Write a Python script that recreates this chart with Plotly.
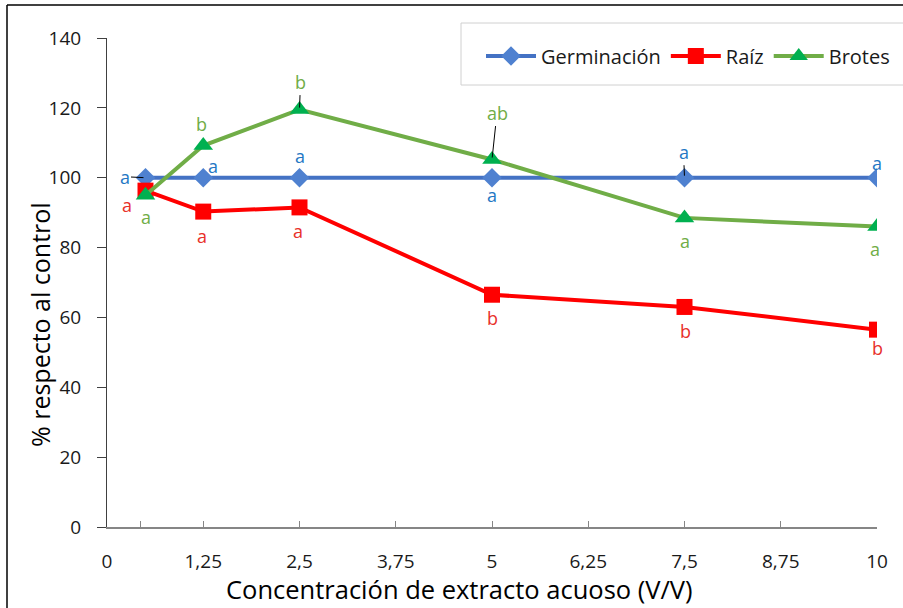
import plotly.graph_objects as go

# ---- data ----
conc = [0.5, 1.25, 2.5, 5, 7.5, 10]
germinacion = [100, 100, 100, 100, 100, 100]
raiz = [96.3, 90.3, 91.5, 66.5, 63.0, 56.5]
brotes = [95.0, 109.2, 119.5, 105.2, 88.5, 86.0]

germ_letters = ["a", "a", "a", "a", "a", "a"]
raiz_letters = ["a", "a", "a", "b", "b", "b"]
brotes_letters = ["a", "b", "b", "ab", "a", "a"]

x_tickvals = [0, 0.43, 1.25, 2.5, 3.75, 5, 6.25, 7.5, 8.75, 10]
x_ticktext = ["0", "", "1,25", "2,5", "3,75", "5", "6,25", "7,5", "8,75", "10"]
y_tickvals = [0, 20, 40, 60, 80, 100, 120, 140]

# ---- styles ----
C_GERM_LINE = "#4472C4"
C_GERM_MK = "#4F81D0"
C_RAIZ = "#FF0000"
C_BROT_LINE = "#70AD47"
C_BROT_MK = "#00B050"
C_GERM_TXT = "#1F77C4"
C_RAIZ_TXT = "#E8302A"
C_BROT_TXT = "#70AD47"
FONT = "Open Sans"

fig = go.Figure()
fig.add_trace(go.Scatter(x=conc, y=germinacion, name="Germinación", mode="lines+markers",
                         line=dict(color=C_GERM_LINE, width=4),
                         marker=dict(symbol="diamond", size=15, color=C_GERM_MK)))
fig.add_trace(go.Scatter(x=conc, y=raiz, name="Raíz", mode="lines+markers",
                         line=dict(color=C_RAIZ, width=4),
                         marker=dict(symbol="square", size=16, color=C_RAIZ)))
fig.add_trace(go.Scatter(x=conc, y=brotes, name="Brotes", mode="lines+markers",
                         line=dict(color=C_BROT_LINE, width=4),
                         marker=dict(symbol="triangle-up", size=17, color=C_BROT_MK)))

# label offsets in pixels: (xshift, yshift, leader) ; leader -> (ax, ay) arrow
germ_off = [(-21, -1, True), (10, 12, False), (0, 22, False), (0, -17, False), (-1, -26, True), (0, 15, False)]
raiz_off = [(-19, -14, False), (-1, -24, False), (-2, -24, False), (0, -23, False), (1, -24, False), (0, -18, False)]
brot_off = [(0, -22, False), (-2, 22, False), (1, -28, True), (5, -47, True), (0, -23, False), (-2, -22, False)]

annotations = []
for ys, letters, offs, col in [(germinacion, germ_letters, germ_off, C_GERM_TXT),
                               (raiz, raiz_letters, raiz_off, C_RAIZ_TXT),
                               (brotes, brotes_letters, brot_off, C_BROT_TXT)]:
    for xv, yv, lt, (dx, dy, leader) in zip(conc, ys, letters, offs):
        if leader:
            annotations.append(dict(x=xv, y=yv, text=lt, showarrow=True, arrowhead=0,
                                    arrowwidth=1, arrowcolor="#000000", ax=dx, ay=dy,
                                    standoff=2, font=dict(family=FONT, size=18, color=col)))
        else:
            annotations.append(dict(x=xv, y=yv, text=lt, showarrow=False,
                                    xshift=dx, yshift=dy,
                                    font=dict(family=FONT, size=18, color=col)))

W, H = 903, 608
L, R, T, B = 107, 26, 38, 81
pw, ph = W - L - R, H - T - B


def px(xp):
    return (xp - L) / pw


def py(yp):
    return (H - B - yp) / ph


# axis titles
annotations.append(dict(xref="paper", yref="paper", x=px(459), y=py(589), xanchor="center", yanchor="middle",
                        text="Concentración de extracto acuoso (V/V)",
                        showarrow=False, font=dict(family=FONT, size=25.5, color="#000000")))
annotations.append(dict(xref="paper", yref="paper", x=px(40), y=py(325), xanchor="center", yanchor="middle",
                        text="% respecto al control",
                        showarrow=False, textangle=-90, font=dict(family=FONT, size=25, color="#000000")))

shapes = [
    # legend box
    dict(type="rect", xref="paper", yref="paper", x0=px(461), x1=px(915), y0=py(85), y1=py(23),
         line=dict(color="#D0D0D0", width=1), fillcolor="rgba(0,0,0,0)"),
    # outer frame (left and top)
    dict(type="line", xref="paper", yref="paper", x0=px(7), x1=px(7), y0=py(5), y1=py(620),
         line=dict(color="#000000", width=1.5)),
    dict(type="line", xref="paper", yref="paper", x0=px(7), x1=px(915), y0=py(5), y1=py(5),
         line=dict(color="#000000", width=1.5)),
]

fig.update_layout(
    width=W, height=H,
    margin=dict(l=L, r=R, t=T, b=B, autoexpand=False),
    paper_bgcolor="white", plot_bgcolor="white",
    showlegend=True,
    legend=dict(orientation="h", x=px(481), y=py(56), xanchor="left", yanchor="middle",
                bgcolor="rgba(0,0,0,0)", borderwidth=0,
                font=dict(family="Open Sans", size=20, color="#1a1a1a"),
                itemwidth=50, traceorder="normal"),
    annotations=annotations,
    shapes=shapes,
    xaxis=dict(range=[0, 10], tickvals=x_tickvals, ticktext=x_ticktext,
               showgrid=False, zeroline=False, showline=True, linecolor="#868686", linewidth=1.5,
               ticks="inside", ticklen=6, tickcolor="#868686", tickwidth=1,
               tickfont=dict(family=FONT, size=19, color="#1a1a1a"), ticklabelstandoff=16),
    yaxis=dict(range=[0, 140], tickvals=y_tickvals,
               showgrid=False, zeroline=False, showline=True, linecolor="#404040", linewidth=1,
               ticks="outside", ticklen=9, tickcolor="#404040", tickwidth=1,
               tickfont=dict(family=FONT, size=19, color="#1a1a1a"), ticklabelstandoff=12),
)

fig.write_html("out.html")
